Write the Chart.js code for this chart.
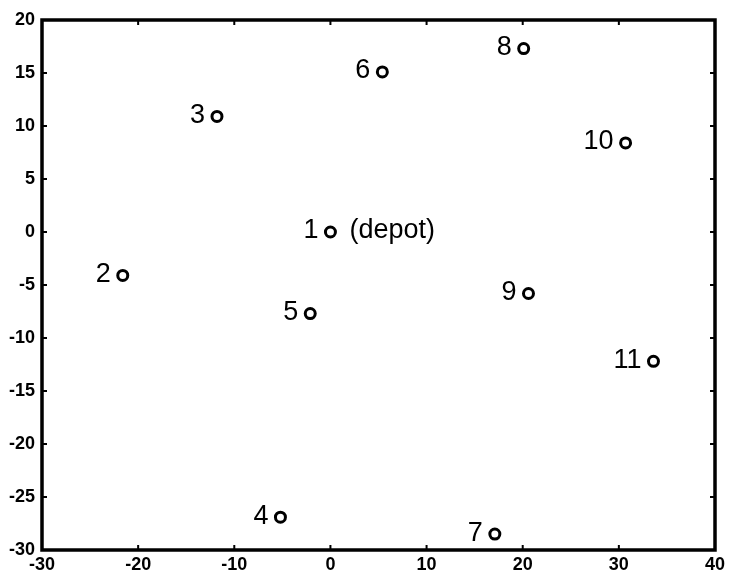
<!DOCTYPE html>
<html>
<head>
<meta charset="utf-8">
<script src="https://cdn.jsdelivr.net/npm/chart.js@4"></script>
<style>
  html, body { margin: 0; padding: 0; background: #fff; }
  #wrap { width: 730px; height: 574px; }
</style>
</head>
<body>
<div id="wrap"><canvas id="depotChart"></canvas></div>
<script>
// customer locations
const nodeNames = ["1", "2", "3", "4", "5", "6", "7", "8", "9", "10", "11"];
const nodeX = [0, -21.6, -11.8, -5.2, -2.1, 5.4, 17.1, 20.1, 20.6, 30.7, 33.6];
const nodeY = [0, -4.1, 10.9, -26.9, -7.7, 15.1, -28.5, 17.3, -5.8, 8.4, -12.2];
const depotNote = "(depot)";

const xTicks = [-30, -20, -10, 0, 10, 20, 30, 40];
const yTicks = [20, 15, 10, 5, 0, -5, -10, -15, -20, -25, -30];

document.addEventListener("DOMContentLoaded", () => {
  initChart();
});

// thick box around the plot with small inward ticks on all four sides
const framePlugin = {
  id: "frame",
  afterDraw(chart) {
    const { ctx, chartArea: a, scales } = chart;
    ctx.save();
    ctx.strokeStyle = "#000";
    ctx.lineWidth = 2;
    const len = 5;
    xTicks.forEach((v) => {
      const px = scales.x.getPixelForValue(v);
      ctx.beginPath();
      ctx.moveTo(px, a.bottom);
      ctx.lineTo(px, a.bottom - len);
      ctx.moveTo(px, a.top);
      ctx.lineTo(px, a.top + len);
      ctx.stroke();
    });
    yTicks.forEach((v) => {
      const py = scales.y.getPixelForValue(v);
      ctx.beginPath();
      ctx.moveTo(a.left, py);
      ctx.lineTo(a.left + len, py);
      ctx.moveTo(a.right, py);
      ctx.lineTo(a.right - len, py);
      ctx.stroke();
    });
    ctx.lineWidth = 3.5;
    ctx.strokeRect(a.left, a.top, a.right - a.left, a.bottom - a.top);
    ctx.restore();
  },
};

// node numbers to the left of each marker, "(depot)" after node 1
const nodeLabelPlugin = {
  id: "nodeLabels",
  afterDatasetsDraw(chart) {
    const { ctx, scales } = chart;
    ctx.save();
    ctx.fillStyle = "#000";
    ctx.font = "27px 'Liberation Sans', Arial, sans-serif";
    ctx.textBaseline = "middle";
    nodeNames.forEach((name, i) => {
      const px = scales.x.getPixelForValue(nodeX[i]);
      const py = scales.y.getPixelForValue(nodeY[i]);
      ctx.textAlign = "right";
      ctx.fillText(name, px - 12, py - 1);
      if (i === 0) {
        ctx.textAlign = "left";
        ctx.fillText(depotNote, px + 19, py - 1);
      }
    });
    ctx.restore();
  },
};

function initChart() {
  const ctx = document.getElementById("depotChart").getContext("2d");
  const tickFont = { family: "'Liberation Sans', Arial, sans-serif", size: 18, weight: "bold" };
  new Chart(ctx, {
    type: "scatter",
    data: {
      datasets: [
        {
          label: "nodes",
          data: nodeX.map((x, i) => ({ x: x, y: nodeY[i] })),
          pointStyle: "circle",
          pointRadius: 5,
          pointHoverRadius: 5,
          pointBorderWidth: 3,
          pointBackgroundColor: "#fff",
          pointBorderColor: "#000",
        },
      ],
    },
    options: {
      responsive: true,
      maintainAspectRatio: false,
      animation: false,
      events: [],
      layout: { padding: { top: 20, right: 15, left: 0, bottom: 0 } },
      plugins: {
        legend: { display: false },
        tooltip: { enabled: false },
      },
      scales: {
        x: {
          type: "linear",
          min: -30,
          max: 40,
          afterBuildTicks: (s) => { s.ticks = xTicks.map((v) => ({ value: v })); },
          afterFit: (s) => { s.height = 24; },
          grid: { display: false, drawTicks: false },
          border: { display: false },
          ticks: { color: "#000", font: tickFont, padding: 4, maxRotation: 0 },
        },
        y: {
          type: "linear",
          min: -30,
          max: 20,
          afterBuildTicks: (s) => { s.ticks = yTicks.map((v) => ({ value: v })); },
          afterFit: (s) => { s.width = 42; },
          grid: { display: false, drawTicks: false },
          border: { display: false },
          ticks: { color: "#000", font: tickFont, padding: 7 },
        },
      },
    },
    plugins: [framePlugin, nodeLabelPlugin],
  });
}
</script>
</body>
</html>
